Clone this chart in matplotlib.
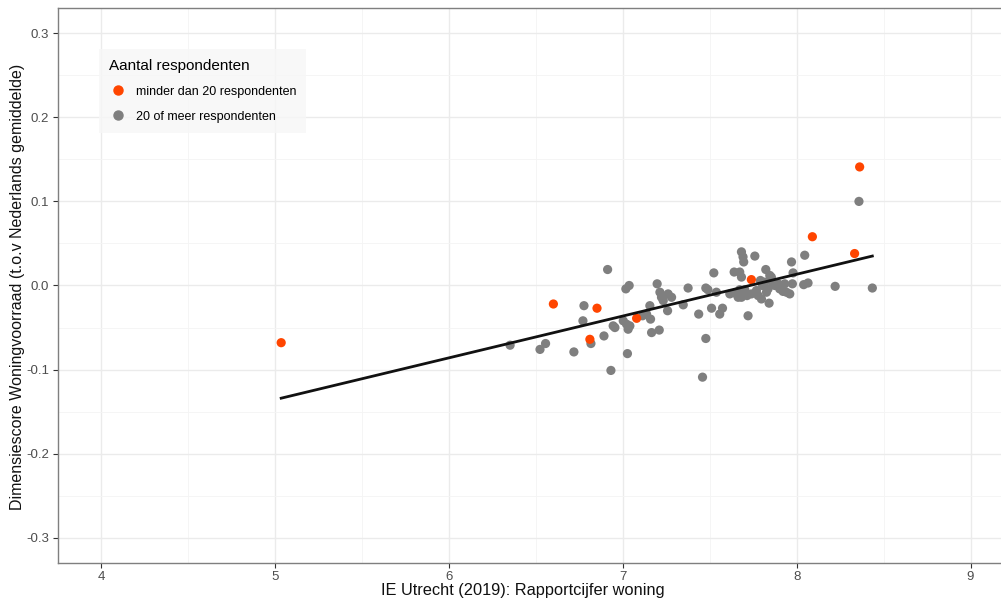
import matplotlib
matplotlib.use("Agg")
import matplotlib.pyplot as plt
from matplotlib.lines import Line2D
import numpy as np

plt.rcParams['font.family'] = ['Liberation Sans', 'DejaVu Sans']

# Data: groups with fewer than 20 respondents (orange) and 20 or more (grey)
x_small = [5.034, 6.600, 6.851, 6.810, 7.079, 7.739, 8.090, 8.333, 8.362]
y_small = [-0.068, -0.022, -0.027, -0.064, -0.039, 0.007, 0.058, 0.038, 0.141]

x_large = [6.351, 6.523, 6.555, 6.718, 6.770, 6.776, 6.816, 6.891, 6.912, 6.931,
           6.944, 6.954, 7.002, 7.017, 7.036, 7.021, 7.030, 7.040, 7.026, 7.113,
           7.136, 7.155, 7.159, 7.165, 7.209, 7.197, 7.213, 7.222, 7.232, 7.260,
           7.280, 7.257, 7.347, 7.375, 7.436, 7.458, 7.477, 7.477, 7.489, 7.510,
           7.523, 7.538, 7.557, 7.573, 7.615, 7.640, 7.644, 7.663, 7.672, 7.682,
           7.682, 7.691, 7.695, 7.682, 7.701, 7.714, 7.720, 7.759, 7.768, 7.778,
           7.791, 7.797, 7.816, 7.803, 7.822, 7.826, 7.835, 7.841, 7.845, 7.854,
           7.864, 7.874, 7.893, 7.902, 7.921, 7.931, 7.941, 7.960, 7.970, 7.979,
           7.975, 8.046, 8.040, 8.065, 8.221, 8.358, 8.435, 7.672, 7.739]
y_large = [-0.071, -0.076, -0.069, -0.079, -0.042, -0.024, -0.069, -0.060, 0.019, -0.101,
           -0.048, -0.050, -0.042, -0.004, 0.000, -0.046, -0.052, -0.048, -0.081, -0.036,
           -0.034, -0.024, -0.040, -0.056, -0.053, 0.002, -0.008, -0.014, -0.018, -0.010,
           -0.014, -0.030, -0.023, -0.003, -0.034, -0.109, -0.063, -0.003, -0.005, -0.027,
           0.015, -0.008, -0.034, -0.027, -0.010, 0.016, -0.009, -0.014, 0.016, 0.010,
           0.040, 0.034, 0.028, -0.014, -0.005, -0.012, -0.036, 0.035, -0.006, -0.012,
           0.006, -0.016, 0.004, 0.000, 0.019, -0.008, -0.004, -0.021, 0.012, 0.010,
           0.002, 0.000, 0.002, -0.004, -0.007, 0.002, -0.008, -0.010, 0.028, 0.015,
           0.002, 0.036, 0.001, 0.003, -0.001, 0.100, -0.003, -0.005, -0.010]

# Linear trend line
fit_slope = 0.0497
fit_intercept = -0.3842

x_ticks = [4, 5, 6, 7, 8, 9]
y_ticks = [-0.3, -0.2, -0.1, 0.0, 0.1, 0.2, 0.3]
y_ticklabels = ["-0.3", "-0.2", "-0.1", "0.0", "0.1", "0.2", "0.3"]

legend_title = "Aantal respondenten"
label_small = "minder dan 20 respondenten"
label_large = "20 of meer respondenten"
x_title = "IE Utrecht (2019): Rapportcijfer woning"
y_title = "Dimensiescore Woningvoorraad (t.o.v Nederlands gemiddelde)"

col_small = "#FF4500"
col_large = "#7F7F7F"

fig = plt.figure(figsize=(10.01, 6.01), dpi=100)
ax = fig.add_axes([58/1001, 1 - 563/601, (1014 - 58)/1001, (563 - 8)/601])

ax.set_xlim(3.75, 9.25)
ax.set_ylim(-0.33, 0.33)

# grid
ax.set_xticks(x_ticks)
ax.set_xticks([4.5, 5.5, 6.5, 7.5, 8.5], minor=True)
ax.set_yticks(y_ticks)
ax.set_yticklabels(y_ticklabels)
ax.set_yticks([-0.25, -0.15, -0.05, 0.05, 0.15, 0.25], minor=True)
ax.grid(True, which='major', color='#EBEBEB', lw=1.0, zorder=0)
ax.grid(True, which='minor', color='#F4F4F4', lw=0.6, zorder=0)
ax.set_axisbelow(True)

ax.tick_params(which='minor', length=0)
ax.tick_params(which='major', length=3.5, width=0.8, color='#333333',
               labelcolor='#4D4D4D', labelsize=9.5, pad=3)
ax.tick_params(axis='x', pad=2)

for s in ['top', 'left', 'bottom']:
    ax.spines[s].set_color('#7F7F7F')
    ax.spines[s].set_linewidth(1.0)
ax.spines['right'].set_visible(False)

# points
ax.scatter(x_large, y_large, s=44, color=col_large, edgecolors='none', zorder=3)
ax.scatter(x_small, y_small, s=44, color=col_small, edgecolors='none', zorder=3)

# trend line
all_x = np.array(x_small + x_large)
xl = np.array([all_x.min(), all_x.max()])
ax.plot(xl, fit_intercept + fit_slope * xl, color='#111111', lw=2.0, zorder=4)

ax.set_xlabel(x_title, fontsize=11.8, color='#111111', va='center')
ax.set_ylabel(y_title, fontsize=11.5, color='#111111', va='center')
ax.xaxis.set_label_coords((523 - 58) / 956, (563 - 591) / 555)
ax.yaxis.set_label_coords((18 - 58) / 956, 0.5 + (285 - 286) / 555)

handles = [Line2D([], [], marker='o', ls='none', color=col_small, markersize=6.5),
           Line2D([], [], marker='o', ls='none', color=col_large, markersize=6.5)]
leg = ax.legend(handles, [label_small, label_large], title=legend_title,
                loc='upper left', bbox_to_anchor=(99/1001, 1 - 49/601),
                bbox_transform=fig.transFigure, frameon=True, fontsize=9,
                title_fontsize=11, handletextpad=0.65, handlelength=1.5,
                borderpad=0.8, labelspacing=1.05, borderaxespad=0)
leg.get_frame().set_facecolor('#F7F7F7')
leg.get_frame().set_edgecolor('none')
leg.get_frame().set_boxstyle('square', pad=0)
leg._legend_box.align = "left"
leg._legend_box.sep = 9

fig.savefig("out.png", dpi=100)
